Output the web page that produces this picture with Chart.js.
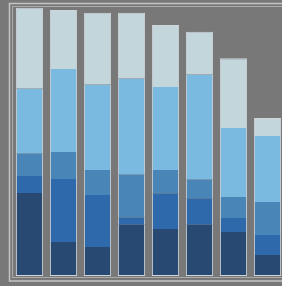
<!DOCTYPE html>
<html>
<head>
<meta charset="utf-8">
<script src="https://cdn.jsdelivr.net/npm/chart.js@4/dist/chart.umd.min.js"></script>
<style>
html,body{margin:0;padding:0;background:#787878;overflow:hidden;}
#wrap{width:292px;height:286px;position:relative;}
</style>
</head>
<body>
<div id="wrap"><canvas id="c"></canvas></div>
<script>
const categories = ["1","2","3","4","5","6","7","8"];
const layer1 = [30.5, 12.5, 10.7, 18.8, 17.3, 18.8, 16.2, 7.7];
const layer2 = [6.3, 23.2, 19.1, 2.6, 12.9, 9.6, 5.1, 7.4];
const layer3 = [8.1, 9.9, 9.2, 15.8, 8.8, 7.0, 7.7, 12.1];
const layer4 = [23.9, 30.5, 31.3, 35.3, 30.5, 38.6, 25.4, 24.3];
const layer5 = [29.8, 21.7, 26.5, 24.3, 22.8, 15.8, 25.7, 6.6];
const seriesNames = ["A","B","C","D","E"];
const colors = ["#284a72","#2e69ab","#4a85b8","#7abae0","#c2d6dc"];
const all = [layer1, layer2, layer3, layer4, layer5];
const edge = "rgba(215,222,226,0.9)";
const datasets = all.map((d,i)=>({
  label: seriesNames[i],
  data: d,
  backgroundColor: colors[i],
  borderColor: edge,
  borderWidth: {left:1, right:1, top: i===4?1:0, bottom: i===0?1:0},
  borderSkipped: false,
  barPercentage: 0.8,
  categoryPercentage: 1.0
}));
const framePlugin = {
  id:'frame',
  beforeDatasetsDraw(chart){
    const ctx = chart.ctx, a = chart.chartArea;
    ctx.save();
    ctx.strokeStyle = '#c4c4c4';
    ctx.lineWidth = 1.5;
    ctx.strokeRect(9.5, 3.5, 300, 277.5);
    ctx.lineWidth = 1;
    ctx.strokeStyle = '#aaaaaa';
    ctx.strokeRect(12.5, 6.5, 300, 271);
    ctx.restore();
  }
};
new Chart(document.getElementById('c'), {
  type: 'bar',
  data: { labels: categories, datasets },
  options: {
    responsive: true,
    maintainAspectRatio: false,
    animation: false,
    layout: { padding: { left: 12.5, top: 4, right: 7.5, bottom: 10 } },
    plugins: { legend: { display: false }, tooltip: { enabled: false } },
    scales: {
      x: { stacked: true, display: false },
      y: { stacked: true, display: false, min: 0, max: 100 }
    }
  },
  plugins: [framePlugin]
});
</script>
</body>
</html>
